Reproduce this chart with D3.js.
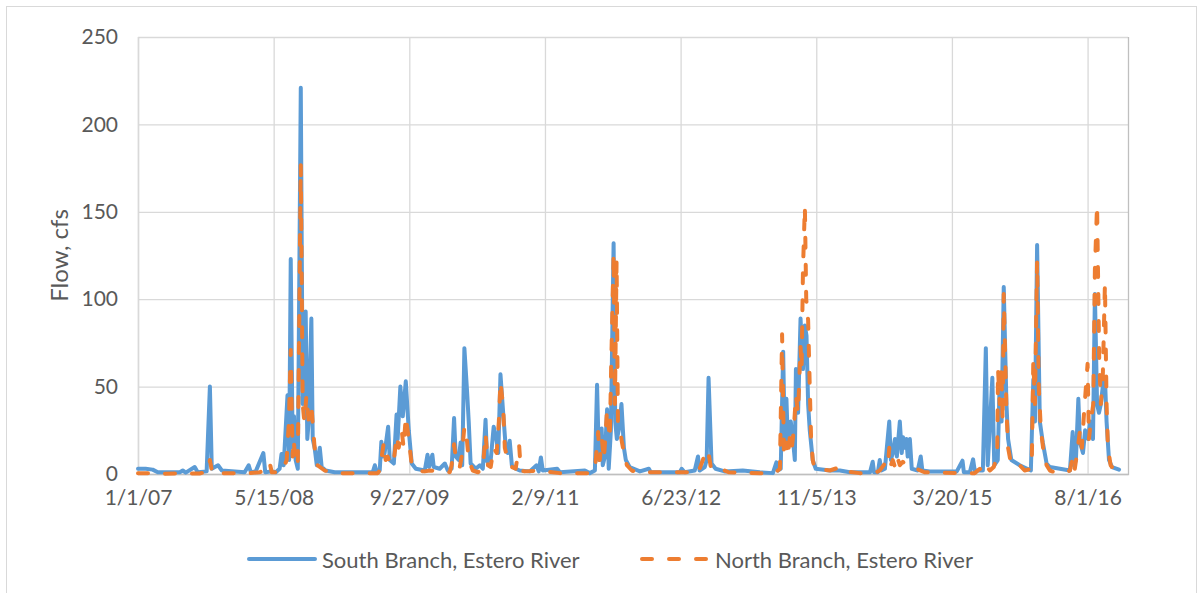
<!DOCTYPE html>
<html>
<head>
<meta charset="utf-8">
<script src="https://cdn.jsdelivr.net/npm/d3@7"></script>
<style>
  body { margin: 0; background: #fff; }
  svg { display: block; font-family: Lato, "Open Sans", sans-serif; }
</style>
</head>
<body>
<svg id="chart"></svg>
<script>
// daily flow (date, cfs)
const southBranch = [
  ["2007-01-01",3],["2007-01-29",3],["2007-02-24",2.5],["2007-03-15",1],["2007-06-04",1],["2007-06-15",2],["2007-06-26",0.8],
  ["2007-07-29",4],["2007-08-09",1],["2007-09-11",1.5],["2007-09-23",50],["2007-09-30",3],["2007-10-23",5],["2007-11-06",2],
  ["2008-01-29",1],["2008-02-13",5],["2008-02-21",1],["2008-03-10",1.5],["2008-04-07",12],["2008-04-14",1],["2008-05-08",1.5],
  ["2008-05-23",1],["2008-06-06",3],["2008-06-13",11.5],["2008-06-21",5],["2008-07-05",45],["2008-07-11",8],["2008-07-17",123],
  ["2008-07-24",15],["2008-07-29",33],["2008-08-04",8],["2008-08-12",3],["2008-08-23",221],["2008-08-30",40],["2008-09-10",93],
  ["2008-09-16",20],["2008-09-21",30],["2008-10-01",89],["2008-10-06",20],["2008-10-13",15],["2008-10-21",5],["2008-11-01",15],
  ["2008-11-08",4],["2008-11-23",2],["2008-12-26",1],
  ["2009-05-15",1],["2009-05-23",5],["2009-05-30",1],["2009-06-10",2],["2009-06-16",18.5],["2009-06-21",10],["2009-06-28",12],
  ["2009-07-11",27],["2009-07-17",8],["2009-08-01",6],["2009-08-11",34],["2009-08-15",20],["2009-08-25",50],["2009-09-03",33],
  ["2009-09-14",53],["2009-09-25",25],["2009-10-06",6],["2009-10-21",3],["2009-11-23",2],["2009-12-03",11],["2009-12-09",4],
  ["2009-12-21",11],["2009-12-26",4],
  ["2010-01-17",3],["2010-02-05",6],["2010-02-16",2],["2010-03-02",3],["2010-03-11",32],["2010-03-17",10],["2010-03-28",8],
  ["2010-04-04",18],["2010-04-10",5],["2010-04-18",72],["2010-04-28",47],["2010-05-04",30],["2010-05-11",6],["2010-05-30",3],
  ["2010-06-14",5],["2010-06-25",3],["2010-07-05",31],["2010-07-11",7],["2010-07-24",8],["2010-08-04",27],["2010-08-14",20],
  ["2010-08-21",12],["2010-08-29",57],["2010-09-08",35],["2010-09-18",14],["2010-09-25",12],["2010-10-02",19],["2010-10-10",5],
  ["2010-10-24",3],["2010-11-08",2],["2010-12-15",1.5],
  ["2011-01-09",5],["2011-01-17",1.5],["2011-01-25",9.5],["2011-02-01",2],["2011-03-26",3],["2011-04-05",1],["2011-07-06",2],
  ["2011-07-24",0.5],["2011-08-12",2],["2011-08-20",51],["2011-08-27",8],["2011-09-06",26],["2011-09-10",5],["2011-09-18",10],
  ["2011-09-26",37],["2011-10-02",3],["2011-10-10",25],["2011-10-20",132],["2011-10-26",30],["2011-11-01",20],["2011-11-08",25],
  ["2011-11-18",40],["2011-11-27",15],["2011-12-04",8],["2011-12-18",4],
  ["2012-01-25",1.5],["2012-02-27",3],["2012-03-05",1],["2012-06-20",1],["2012-06-27",3],["2012-07-08",1],["2012-08-14",2],
  ["2012-08-26",10],["2012-09-01",2],["2012-09-20",4],["2012-09-27",8],["2012-10-04",55],["2012-10-15",6],["2012-10-30",3],
  ["2012-12-02",1.5],
  ["2013-02-07",2],["2013-04-11",1],["2013-05-29",0.5],["2013-06-11",6.7],["2013-06-16",2],["2013-06-27",3],["2013-07-06",70],
  ["2013-07-12",15],["2013-07-18",43],["2013-07-23",20],["2013-08-03",30],["2013-08-11",20],["2013-08-18",8],["2013-08-22",60],
  ["2013-08-30",35],["2013-09-08",89],["2013-09-17",60],["2013-09-24",85],["2013-09-30",79],["2013-10-06",40],["2013-10-12",25],
  ["2013-10-23",8],["2013-11-03",3],["2013-12-25",2],
  ["2014-01-31",2],["2014-03-09",1],["2014-05-22",1],["2014-06-01",7],["2014-06-06",1],["2014-06-20",1],["2014-06-27",8],
  ["2014-07-03",2],["2014-07-16",3],["2014-08-01",30],["2014-08-07",8],["2014-08-14",12],["2014-08-22",20],["2014-08-29",10],
  ["2014-09-09",30],["2014-09-16",12],["2014-09-21",21],["2014-09-27",15],["2014-10-03",20],["2014-10-08",10],["2014-10-16",20],
  ["2014-10-23",3],["2014-11-14",2],["2014-11-25",10],["2014-12-01",2],["2014-12-28",1.5],
  ["2015-04-07",1.5],["2015-04-28",7.6],["2015-05-03",1],["2015-05-25",1],["2015-06-06",8.4],["2015-06-12",2],["2015-07-12",2],
  ["2015-07-23",72],["2015-07-30",5],["2015-08-16",55],["2015-08-23",5],["2015-09-05",8],["2015-09-12",53],["2015-09-19",30],
  ["2015-09-27",107],["2015-10-07",40],["2015-10-13",20],["2015-10-25",8],["2015-11-25",5],
  ["2016-01-05",2],["2016-01-14",54],["2016-01-20",30],["2016-01-28",131],["2016-02-07",30],["2016-02-18",18],["2016-03-03",6],
  ["2016-03-15",4],["2016-05-28",2],["2016-06-07",24],["2016-06-12",5],["2016-06-19",8],["2016-06-28",43],["2016-07-04",18],
  ["2016-07-15",12],["2016-07-23",25],["2016-08-03",20],["2016-08-10",30],["2016-08-21",20],["2016-08-28",103],["2016-09-05",40],
  ["2016-09-12",35],["2016-09-19",40],["2016-09-26",50],["2016-10-04",55],["2016-10-10",30],["2016-10-19",8],["2016-10-30",4],
  ["2016-11-25",2.5]
];

const northBranch = [
  ["2007-01-01",0.5],["2007-02-13",0.5],["2007-03-22",0.2],["2007-08-16",0.3],["2007-09-04",1],["2007-09-15",1],["2007-09-23",8],
  ["2007-09-30",2],["2007-10-22",3],["2007-10-29",0.5],
  ["2008-02-17",0.5],["2008-03-25",1],["2008-04-08",2],["2008-04-23",2],["2008-05-01",6],["2008-05-08",1],["2008-05-23",1],
  ["2008-06-06",0.5],["2008-06-17",2],["2008-07-02",8],["2008-07-10",30],["2008-07-17",71],["2008-07-24",10],["2008-07-28",20],
  ["2008-08-04",5],["2008-08-12",5],["2008-08-23",177],["2008-08-30",40],["2008-09-05",30],["2008-09-13",45],["2008-09-21",30],
  ["2008-10-02",37],["2008-10-13",15],["2008-10-24",5],["2008-11-19",2],["2008-12-26",0.5],
  ["2009-06-03",0.5],["2009-06-10",2],["2009-06-25",18],["2009-07-02",8],["2009-07-09",10],["2009-07-21",5],["2009-08-01",8],
  ["2009-08-12",22],["2009-08-19",15],["2009-08-30",25],["2009-09-06",15],["2009-09-14",33],["2009-09-25",20],["2009-10-06",5],
  ["2009-10-21",2],["2009-11-23",1.5],["2009-12-12",2],
  ["2010-01-17",1.5],["2010-02-23",1],["2010-03-02",5],["2010-03-11",17],["2010-03-21",5],["2010-04-01",4],["2010-04-08",10],
  ["2010-04-18",27],["2010-04-27",20],["2010-05-04",8],["2010-05-19",2],["2010-06-07",1],["2010-06-25",3],["2010-07-05",23],
  ["2010-07-14",5],["2010-07-24",4],["2010-08-04",15],["2010-08-15",12],["2010-08-23",30],["2010-08-29",53],["2010-09-08",38],
  ["2010-09-14",15],["2010-09-25",8],["2010-10-10",4],["2010-10-24",3],["2010-11-06",16],["2010-11-12",2],["2010-11-27",1.5],
  ["2011-01-21",2],["2011-02-08",1.5],["2011-04-05",0.5],["2011-07-24",0.5],["2011-08-12",2],["2011-08-24",24],["2011-08-30",8],
  ["2011-09-07",20],["2011-09-14",8],["2011-09-26",37],["2011-10-06",20],["2011-10-11",61],["2011-10-20",126],["2011-10-25",40],
  ["2011-10-31",122],["2011-11-05",30],["2011-11-12",25],["2011-11-20",18],["2011-11-27",12],["2011-12-08",5],["2011-12-26",2],
  ["2012-01-25",0.5],["2012-03-01",1],["2012-07-27",1],["2012-08-07",3],["2012-08-14",1.5],["2012-09-01",3],["2012-09-13",8],
  ["2012-09-20",12],["2012-09-27",10],["2012-10-04",12],["2012-10-12",4],["2012-10-27",1.5],["2012-12-02",2],["2012-12-17",1],
  ["2013-04-11",0.5],["2013-06-05",0.5],["2013-06-24",3],["2013-07-02",80],["2013-07-09",10],["2013-07-16",18],["2013-07-23",10],
  ["2013-07-31",22],["2013-08-07",15],["2013-08-14",25],["2013-08-22",45],["2013-08-30",35],["2013-09-08",73],["2013-09-12",60],
  ["2013-09-17",117],["2013-09-24",153],["2013-09-29",100],["2013-10-06",88],["2013-10-12",50],["2013-10-17",20],["2013-10-23",8],
  ["2013-10-30",3],["2013-12-25",2],
  ["2014-02-02",4],["2014-02-18",1.5],["2014-04-14",0.5],["2014-06-09",0.5],["2014-06-27",2],["2014-07-16",6],["2014-07-27",4],
  ["2014-08-01",15],["2014-08-07",5],["2014-08-14",8],["2014-08-22",4],["2014-08-30",10],["2014-09-09",5],["2014-09-20",7],
  ["2014-10-03",5],["2014-10-16",4],["2014-11-09",3],["2014-12-09",1],
  ["2015-04-18",0.5],["2015-06-12",0.5],["2015-07-01",3],["2015-07-12",1],["2015-07-23",5],["2015-08-07",2],["2015-08-21",4],
  ["2015-09-03",10],["2015-09-06",60],["2015-09-12",40],["2015-09-18",61],["2015-09-23",30],["2015-09-27",103],["2015-10-07",37],
  ["2015-10-13",15],["2015-10-25",5],["2015-11-25",5],["2015-12-13",2],
  ["2016-01-08",3],["2016-01-14",65],["2016-01-20",40],["2016-01-28",122],["2016-02-03",50],["2016-02-11",25],["2016-02-19",15],
  ["2016-03-03",5],["2016-03-15",2],["2016-04-02",1],["2016-05-09",0.5],["2016-05-28",2],["2016-06-08",10],["2016-06-15",3],
  ["2016-06-26",15],["2016-07-04",25],["2016-07-11",15],["2016-07-19",35],["2016-07-26",50],["2016-08-01",63],["2016-08-06",20],
  ["2016-08-13",30],["2016-08-22",40],["2016-08-28",117],["2016-09-05",154],["2016-09-13",65],["2016-09-19",40],["2016-09-26",55],
  ["2016-10-04",109],["2016-10-10",40],["2016-10-15",15],["2016-10-25",5],["2016-11-09",2],["2016-11-25",2]
];

const xTickLabels = ["1/1/07", "5/15/08", "9/27/09", "2/9/11", "6/23/12", "11/5/13", "3/20/15", "8/1/16"];
const xEnd = "12/28/16";
const yTicks = [0, 50, 100, 150, 200, 250];
const seriesNames = ["South Branch, Estero River", "North Branch, Estero River"];

const W = 1203, H = 593;
const margin = { top: 37, right: 75, bottom: 119, left: 138 };
const textColor = "#595959";

const parseIso = d3.timeParse("%Y-%m-%d");
const parseTick = d3.timeParse("%m/%d/%y");

const svg = d3.select("#chart").attr("width", W).attr("height", H);

svg.append("rect").attr("width", W).attr("height", H).attr("fill", "#fff");
svg.append("rect")
  .attr("x", 6.5).attr("y", 6.5)
  .attr("width", W - 13).attr("height", H + 10)
  .attr("fill", "none").attr("stroke", "#d9d9d9");

const x = d3.scaleTime()
  .domain([parseTick(xTickLabels[0]), parseTick(xEnd)])
  .range([margin.left, W - margin.right]);

const y = d3.scaleLinear()
  .domain([0, 250])
  .range([H - margin.bottom, margin.top]);

const tickDates = xTickLabels.map(parseTick);

// horizontal gridlines + y labels
const yAxis = svg.append("g")
  .attr("transform", `translate(${margin.left},0)`)
  .call(d3.axisLeft(y).tickValues(yTicks).tickSize(-(W - margin.left - margin.right)).tickPadding(20));
yAxis.select(".domain").remove();
yAxis.selectAll(".tick line").attr("stroke", "#d9d9d9").attr("stroke-width", 1.3);
yAxis.selectAll(".tick text")
  .attr("fill", textColor).style("font-size", "21px").style("font-family", "Lato, sans-serif");

// vertical gridlines + date labels
const xAxis = svg.append("g")
  .attr("transform", `translate(0,${H - margin.bottom})`)
  .call(d3.axisBottom(x).tickValues(tickDates).tickFormat((d, i) => xTickLabels[i])
    .tickSize(-(H - margin.top - margin.bottom)).tickPadding(16));
xAxis.select(".domain").attr("stroke", "#bfbfbf").attr("stroke-width", 1.3);
xAxis.selectAll(".tick line").attr("stroke", "#d9d9d9").attr("stroke-width", 1.3);
xAxis.selectAll(".tick text")
  .attr("fill", textColor).style("font-size", "21px").style("font-family", "Lato, sans-serif");

svg.append("text")
  .attr("transform", `translate(58,${(margin.top + H - margin.bottom) / 2}) rotate(-90)`)
  .attr("text-anchor", "middle")
  .attr("dominant-baseline", "central")
  .attr("fill", textColor)
  .style("font-size", "24px")
  .text("Flow, cfs");

const line = d3.line()
  .x(d => x(parseIso(d[0])))
  .y(d => y(d[1]))
  .curve(d3.curveLinear);

const styles = [
  { data: southBranch, color: "#5B9BD5", dash: null },
  { data: northBranch, color: "#ED7D31", dash: "10,17" }
];

styles.forEach(s => {
  svg.append("path")
    .datum(s.data)
    .attr("d", line)
    .attr("fill", "none")
    .attr("stroke", s.color)
    .attr("stroke-width", 4)
    .attr("stroke-linejoin", "round")
    .attr("stroke-linecap", "round")
    .attr("stroke-dasharray", s.dash);
});

// legend
const legendX = [249, 642];
const legend = svg.append("g");
styles.forEach((s, i) => {
  const g = legend.append("g").attr("transform", `translate(${legendX[i]},559)`);
  g.append("line")
    .attr("x1", 0).attr("x2", 66)
    .attr("stroke", s.color).attr("stroke-width", 4)
    .attr("stroke-linecap", "round")
    .attr("stroke-dasharray", s.dash);
  g.append("text")
    .attr("x", 73)
    .attr("dominant-baseline", "central")
    .attr("fill", textColor)
    .style("font-size", "22px")
    .text(seriesNames[i]);
});
</script>
</body>
</html>
